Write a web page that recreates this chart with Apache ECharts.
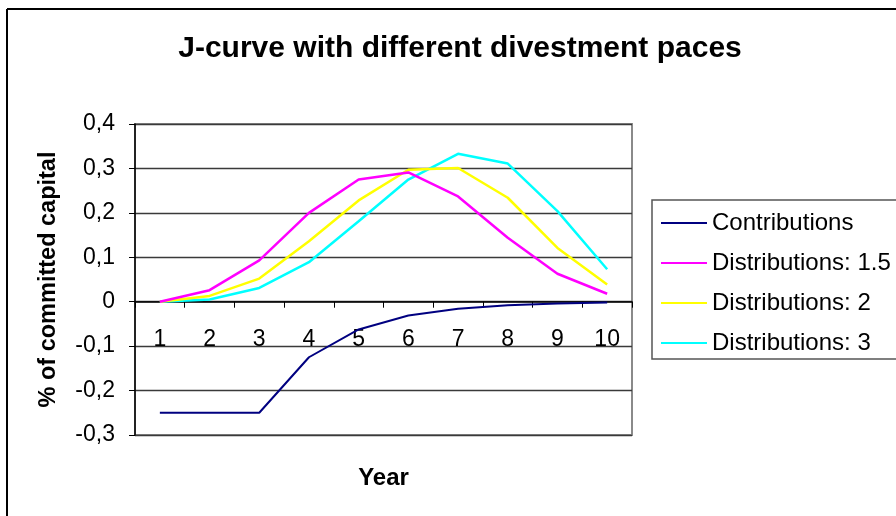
<!DOCTYPE html>
<html>
<head>
<meta charset="utf-8">
<script src="https://cdn.jsdelivr.net/npm/echarts@6/dist/echarts.min.js"></script>
<style>
  html, body { margin: 0; padding: 0; background: #fff; }
  #chart { width: 896px; height: 516px; }
</style>
</head>
<body>
<div id="chart"></div>
<script>
// Years after fund inception
const years = ['1', '2', '3', '4', '5', '6', '7', '8', '9', '10'];

// Capital calls (as share of committed capital)
const contributions = [-0.25, -0.25, -0.25, -0.125, -0.0625, -0.031, -0.016, -0.008, -0.004, -0.002];

// Distributions for three divestment paces
const dist15 = [0, 0.026, 0.093, 0.200, 0.275, 0.291, 0.237, 0.144, 0.063, 0.018];
const dist2  = [0, 0.013, 0.052, 0.136, 0.228, 0.297, 0.301, 0.234, 0.121, 0.039];
const dist3  = [0, 0.005, 0.031, 0.089, 0.181, 0.275, 0.333, 0.311, 0.204, 0.073];

const seriesNames = ['Contributions', 'Distributions: 1.5', 'Distributions: 2', 'Distributions: 3'];
const seriesData = [contributions, dist15, dist2, dist3];
const seriesColors = ['#000080', '#ff00ff', '#ffff00', '#00ffff'];
const seriesWidths = [2, 2.5, 2.5, 2.5];

// value range of the vertical axis
const Y_MIN = -0.3, Y_MAX = 0.4, Y_STEP = 0.1;

const FONT = "'Liberation Sans', Arial, sans-serif";
const W = 896, H = 516;
const GRID = { left: 135, right: 264, top: 124, bottom: 81 };

// the category axis sits on the zero line: shift it up from the plot bottom
const plotH = H - GRID.top - GRID.bottom;
const zeroOffset = -plotH * (0 - Y_MIN) / (Y_MAX - Y_MIN);

const chart = echarts.init(document.getElementById('chart'), null, { renderer: 'canvas' });

chart.setOption({
  animation: false,
  backgroundColor: '#ffffff',
  title: {
    text: 'J-curve with different divestment paces',
    left: 455,
    top: 29,
    textAlign: 'center',
    textStyle: { fontFamily: FONT, fontSize: 30, fontWeight: 'bold', color: '#000' }
  },
  graphic: [
    // outer chart frame (left and top edges)
    { type: 'line', shape: { x1: 7, y1: 9, x2: 7, y2: H }, style: { stroke: '#000', lineWidth: 2 } },
    { type: 'line', shape: { x1: 7, y1: 9, x2: W, y2: 9 }, style: { stroke: '#000', lineWidth: 2 } }
  ],
  legend: {
    orient: 'vertical',
    left: 652,
    top: 200,
    data: seriesNames,
    icon: 'rect',
    itemWidth: 46,
    itemHeight: 2,
    itemGap: 14,
    padding: [10, 40, 3, 9],
    borderColor: '#555',
    borderWidth: 1.5,
    backgroundColor: '#fff',
    textStyle: { fontFamily: FONT, fontSize: 24, color: '#000', lineHeight: 26 }
  },
  grid: {
    left: GRID.left,
    right: GRID.right,
    top: GRID.top,
    bottom: GRID.bottom,
    containLabel: false,
    outerBoundsMode: 'none',
    show: true,
    backgroundColor: '#fff',
    borderColor: '#8a8a8a',
    borderWidth: 2
  },
  xAxis: {
    type: 'category',
    data: years,
    boundaryGap: true,
    position: 'bottom',
    offset: zeroOffset,
    name: 'Year',
    nameLocation: 'middle',
    nameGap: 165,
    nameTextStyle: { fontFamily: FONT, fontSize: 24, fontWeight: 'bold', color: '#000' },
    axisLine: { onZero: false, lineStyle: { color: '#000', width: 1.5 } },
    axisTick: { show: true, inside: false, length: 6, lineStyle: { color: '#000', width: 1 } },
    axisLabel: { fontFamily: FONT, fontSize: 23, color: '#000', margin: 26 },
    splitLine: { show: false }
  },
  yAxis: {
    type: 'value',
    min: Y_MIN,
    max: Y_MAX,
    interval: Y_STEP,
    name: '% of committed capital',
    nameLocation: 'middle',
    nameRotate: 90,
    nameGap: 74,
    nameTextStyle: { fontFamily: FONT, fontSize: 23.5, fontWeight: 'bold', color: '#000' },
    axisLine: { show: true, lineStyle: { color: '#000', width: 1.5 } },
    axisTick: { show: true, inside: false, length: 6, lineStyle: { color: '#000', width: 1 } },
    axisLabel: {
      fontFamily: FONT, fontSize: 23, color: '#000', margin: 20,
      formatter: function (v) {
        if (Math.abs(v) < 1e-9) return '0';
        return v.toFixed(1).replace('.', ',');
      }
    },
    splitLine: { show: true, lineStyle: { color: '#3a3a3a', width: 1.3 } }
  },
  series: seriesNames.map(function (name, i) {
    return {
      name: name,
      type: 'line',
      data: seriesData[i],
      symbol: 'none',
      z: 4 - i,
      lineStyle: { color: seriesColors[i], width: seriesWidths[i] },
      itemStyle: { color: seriesColors[i] }
    };
  })
});
</script>
</body>
</html>
